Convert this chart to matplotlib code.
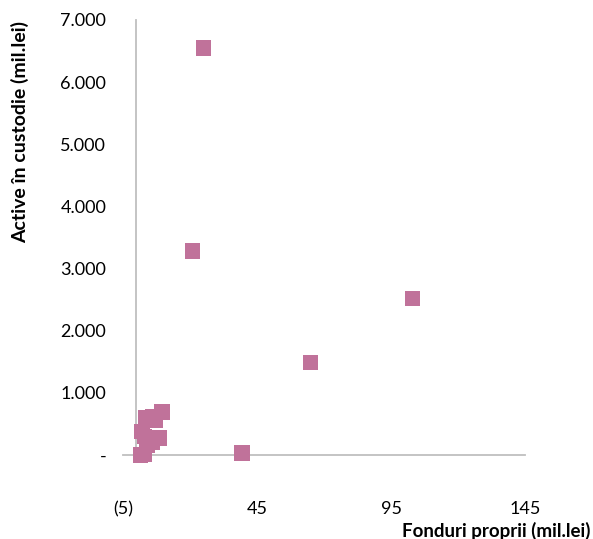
import matplotlib
matplotlib.use("Agg")
import matplotlib.pyplot as plt

# Own funds vs. assets under custody (million lei)
fonduri_proprii = [25.0, 21.0, 103.0, 65.0, 39.5, 9.5, 3.5, 6.0, 7.0, 8.5, 2.0, 3.0, 4.0, 6.0, 1.5, 3.0]
active_custodie = [6550, 3280, 2520, 1490, 30, 690, 600, 620, 560, 270, 380, 300, 150, 200, 0, 10]

x_ticks = [-5, 45, 95, 145]
x_tick_labels = ["(5)", "45", "95", "145"]
y_ticks = [0, 1000, 2000, 3000, 4000, 5000, 6000, 7000]
y_tick_labels = ["-", "1.000", "2.000", "3.000", "4.000", "5.000", "6.000", "7.000"]

plt.rcParams["font.family"] = ["Lato", "DejaVu Sans"]

W, H = 593, 539
fig = plt.figure(figsize=(W / 100, H / 100), dpi=100)
ax = fig.add_axes([123 / W, 1 - 455 / H, (525 - 123) / W, (455 - 20) / H])

ax.scatter(fonduri_proprii, active_custodie, marker="s", s=125, color="#C0729A",
           edgecolors="none", zorder=3, clip_on=False)

ax.set_xlim(-5, 145)
ax.set_ylim(0, 7000)
for s in ax.spines.values():
    s.set_visible(False)

axis_grey = "#BFBFBF"
ax.plot([-5, 145], [0, 0], color=axis_grey, lw=1.3, zorder=1, clip_on=False)
ax.plot([0, 0], [0, 7000], color=axis_grey, lw=1.3, zorder=1, clip_on=False)

ax.set_xticks(x_ticks)
ax.set_xticklabels(x_tick_labels)
ax.set_yticks(y_ticks)
ax.set_yticklabels(y_tick_labels)
ax.tick_params(axis="both", length=0, labelsize=13, colors="#000000")
ax.tick_params(axis="x", pad=33)
ax.tick_params(axis="y", pad=12)

fig.text(20 / W, 1 - 132 / H, "Active în custodie (mil.lei)", rotation=90,
         ha="center", va="center", fontsize=14, fontweight="bold")
fig.text(591 / W, 1 - 531 / H, "Fonduri proprii (mil.lei)", ha="right",
         va="center", fontsize=13.5, fontweight="bold")

fig.savefig("out.png", dpi=100)
